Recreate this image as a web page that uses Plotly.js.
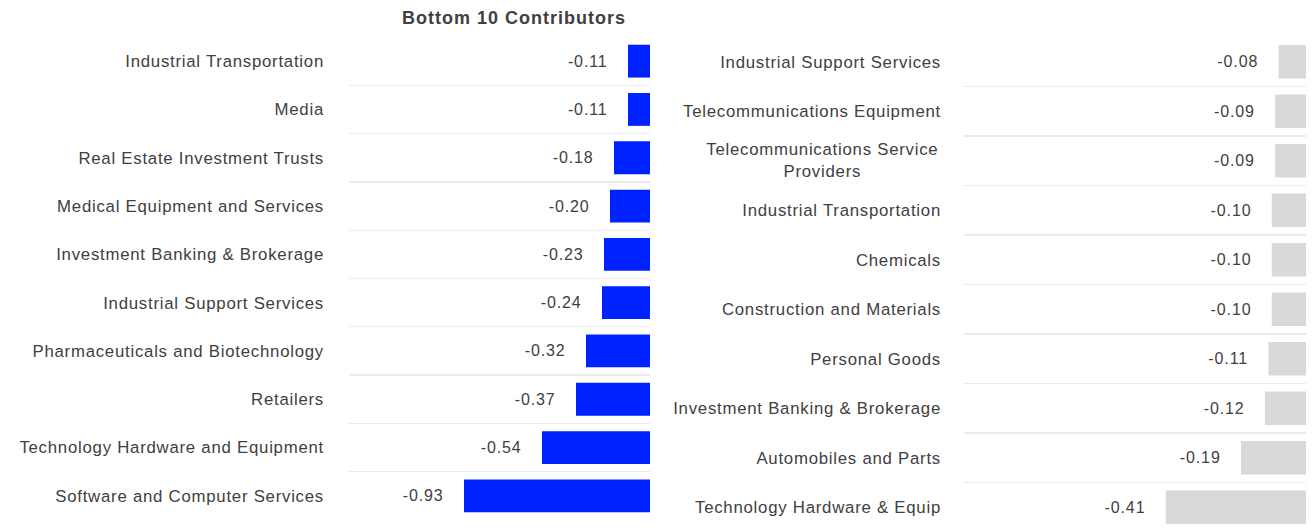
<!DOCTYPE html>
<html>
<head>
<meta charset="utf-8">
<script src="https://cdn.plot.ly/plotly-3.0.1.min.js"></script>
<style>
  html, body { margin: 0; padding: 0; background: #fff; }
  #chart { width: 1312px; height: 532px; }
  #chart svg text { letter-spacing: 0.9px; }
  #chart svg .ytick text, #chart svg .y2tick text, #chart svg .annotation-text { letter-spacing: 0.75px; }
  #chart svg .gtitle { letter-spacing: 1px; }
</style>
</head>
<body>
<div id="chart"></div>
<script>
// Left panel
const leftCategories = [
  'Industrial Transportation',
  'Media',
  'Real Estate Investment Trusts',
  'Medical Equipment and Services',
  'Investment Banking & Brokerage',
  'Industrial Support Services',
  'Pharmaceuticals and Biotechnology',
  'Retailers',
  'Technology Hardware and Equipment',
  'Software and Computer Services'
];
const leftValues = [-0.11, -0.11, -0.18, -0.20, -0.23, -0.24, -0.32, -0.37, -0.54, -0.93];

// Right panel
const rightCategories = [
  'Industrial Support Services',
  'Telecommunications Equipment',
  'Telecommunications Service<br>Providers',
  'Industrial Transportation',
  'Chemicals',
  'Construction and Materials',
  'Personal Goods',
  'Investment Banking & Brokerage',
  'Automobiles and Parts',
  'Technology Hardware & Equip'
];
const rightValues = [-0.08, -0.09, -0.09, -0.10, -0.10, -0.10, -0.11, -0.12, -0.19, -0.41];

const chartTitle = 'Bottom 10 Contributors';

const FONT = 'Liberation Sans, Arial, sans-serif';
const TXT = '#404040';
const FS = 16;      // value labels
const LFS = 16.8;   // category labels
const pad = '\u00a0\u00a0\u00a0\u00a0';

const traces = [
  {
    type: 'bar', orientation: 'h',
    x: leftValues, y: leftCategories,
    xaxis: 'x', yaxis: 'y',
    marker: { color: '#0022ff' },
    text: leftValues.map(v => v.toFixed(2) + pad),
    textposition: 'outside',
    textfont: { family: FONT, size: FS, color: TXT },
    cliponaxis: false,
    hoverinfo: 'x+y'
  },
  {
    type: 'bar', orientation: 'h',
    x: rightValues, y: rightCategories,
    xaxis: 'x2', yaxis: 'y2',
    marker: { color: '#d9d9d9' },
    text: rightValues.map(v => v.toFixed(2) + pad),
    textposition: 'outside',
    textfont: { family: FONT, size: FS, color: TXT },
    cliponaxis: false,
    hoverinfo: 'x+y'
  }
];

// Multi-line labels are drawn centred as annotations; single-line ones as tick labels
const rightTickText = rightCategories.map(c => c.includes('<br>') ? '' : c);
const annotations = rightCategories
  .filter(c => c.includes('<br>'))
  .map(c => ({
    xref: 'paper', yref: 'y2',
    x: (964 - 33) / 1312, y: c,
    xanchor: 'right', yanchor: 'middle',
    text: c, align: 'center', showarrow: false,
    font: { family: FONT, size: LFS, color: TXT }
  }));

const yCommon = {
  type: 'category',
  autorange: 'reversed',
  showgrid: true,
  gridcolor: '#ebebeb',
  gridwidth: 1.3,
  tickson: 'boundaries',
  ticks: '',
  showline: false,
  zeroline: false,
  tickfont: { family: FONT, size: LFS, color: TXT },
  fixedrange: true
};

const layout = {
  width: 1312, height: 532,
  margin: { l: 0, r: 0, t: 0, b: 0 },
  paper_bgcolor: '#ffffff',
  plot_bgcolor: '#ffffff',
  showlegend: false,
  bargap: 0.32,
  font: { family: FONT, color: TXT },
  title: {
    text: '<b>' + chartTitle + '</b>',
    font: { family: FONT, size: 18, color: TXT },
    xref: 'paper', x: 514 / 1312, xanchor: 'center',
    yref: 'container', y: 1 - 18 / 532, yanchor: 'middle'
  },
  xaxis: {
    domain: [349 / 1312, 650 / 1312],
    range: [-1.505, 0],
    showgrid: false, zeroline: false, showticklabels: false, ticks: '',
    fixedrange: true
  },
  yaxis: Object.assign({}, yCommon, {
    domain: [1 - 520 / 532, 1 - 37 / 532],
    anchor: 'x',
    ticklabelstandoff: 24
  }),
  xaxis2: {
    domain: [964 / 1312, 1306 / 1312],
    range: [-1.0, 0],
    anchor: 'y2',
    showgrid: false, zeroline: false, showticklabels: false, ticks: '',
    fixedrange: true
  },
  yaxis2: Object.assign({}, yCommon, {
    domain: [0, 1 - 37 / 532],
    anchor: 'x2',
    tickmode: 'array',
    tickvals: rightCategories,
    ticktext: rightTickText,
    ticklabelstandoff: 22
  }),
  annotations: annotations
};

Plotly.newPlot('chart', traces, layout, { displayModeBar: false, staticPlot: true });
</script>
</body>
</html>
